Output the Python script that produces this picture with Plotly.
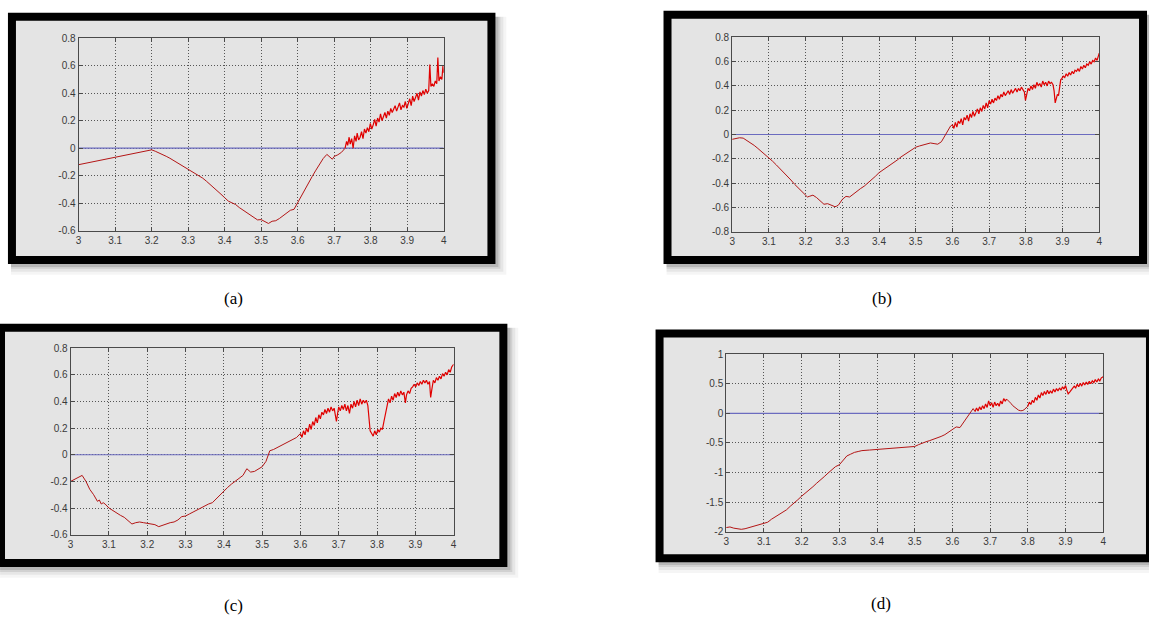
import plotly.graph_objects as go

W, H = 1149, 624

# ---------------- data ----------------
# (a)
a_smooth_x = [3.0, 3.2, 3.21, 3.22, 3.23, 3.24, 3.25, 3.26, 3.27, 3.28, 3.29, 3.30, 3.31, 3.32, 3.33,
              3.34, 3.35, 3.36, 3.37, 3.38, 3.39, 3.40, 3.41, 3.42, 3.43, 3.44, 3.45, 3.46, 3.47,
              3.48, 3.49, 3.50, 3.51, 3.52, 3.53, 3.54, 3.55, 3.56, 3.57, 3.58, 3.59, 3.60, 3.61,
              3.62, 3.63, 3.64, 3.65, 3.66, 3.67, 3.68, 3.69, 3.695, 3.70, 3.71, 3.72, 3.725, 3.730]
a_smooth_y = [-0.12, -0.012, -0.022, -0.033, -0.046, -0.059, -0.073, -0.089, -0.106, -0.123, -0.140,
              -0.155, -0.170, -0.183, -0.198, -0.218, -0.240, -0.262, -0.285, -0.310, -0.335, -0.360,
              -0.385, -0.398, -0.410, -0.432, -0.450, -0.468, -0.488, -0.510, -0.522, -0.520, -0.532,
              -0.548, -0.532, -0.528, -0.512, -0.490, -0.470, -0.452, -0.445, -0.395, -0.345, -0.300,
              -0.255, -0.205, -0.160, -0.115, -0.075, -0.045, -0.068, -0.080, -0.060, -0.048, -0.030,
              -0.012, 0.00]
a_noisy_x = [3.730, 3.734, 3.737, 3.741, 3.744, 3.748, 3.752, 3.756, 3.760, 3.763, 3.767, 3.771,
             3.775, 3.779, 3.783, 3.787, 3.791, 3.795, 3.799, 3.803, 3.807, 3.811, 3.815, 3.819,
             3.823, 3.827, 3.831, 3.835, 3.839, 3.843, 3.847, 3.851, 3.855, 3.859, 3.863, 3.867,
             3.871, 3.875, 3.879, 3.883, 3.887, 3.891, 3.895, 3.899, 3.903, 3.907, 3.911, 3.915,
             3.919, 3.923, 3.927, 3.931, 3.935, 3.939, 3.943, 3.947, 3.951, 3.955, 3.959, 3.962,
             3.965, 3.969, 3.973, 3.977, 3.981, 3.984, 3.987, 3.991, 3.995, 3.998, 4.000]
a_noisy_y = [0.00, 0.05, 0.02, 0.08, 0.03, 0.07, 0.00, 0.09, 0.05, 0.11, 0.06, 0.08,
             0.12, 0.07, 0.14, 0.11, 0.15, 0.12, 0.18, 0.14, 0.17, 0.21, 0.16, 0.22,
             0.19, 0.25, 0.20, 0.23, 0.26, 0.22, 0.27, 0.24, 0.29, 0.26, 0.28, 0.31,
             0.27, 0.30, 0.33, 0.28, 0.31, 0.30, 0.34, 0.29, 0.33, 0.36, 0.31, 0.38,
             0.34, 0.37, 0.40, 0.35, 0.41, 0.38, 0.42, 0.39, 0.43, 0.40, 0.42, 0.61,
             0.45, 0.47, 0.45, 0.49, 0.47, 0.66, 0.49, 0.52, 0.50, 0.60, 0.55]

# (b)
b_smooth_x = [3.0, 3.01, 3.02, 3.03, 3.04, 3.05, 3.06, 3.07, 3.08, 3.09, 3.1, 3.11, 3.12, 3.13,
              3.14, 3.15, 3.16, 3.17, 3.18, 3.19, 3.2, 3.205, 3.21, 3.22, 3.23, 3.24, 3.25, 3.26,
              3.27, 3.28, 3.285, 3.29, 3.3, 3.31, 3.32, 3.33, 3.34, 3.35, 3.36, 3.37, 3.38, 3.39,
              3.4, 3.41, 3.42, 3.43, 3.44, 3.45, 3.46, 3.47, 3.48, 3.49, 3.5, 3.51, 3.52, 3.53,
              3.54, 3.55, 3.56, 3.57, 3.58, 3.59, 3.595, 3.600]
b_smooth_y = [-0.04, -0.035, -0.027, -0.03, -0.048, -0.07, -0.09, -0.115, -0.14, -0.165, -0.19,
              -0.22, -0.25, -0.28, -0.31, -0.34, -0.375, -0.41, -0.44, -0.47, -0.50, -0.515, -0.51,
              -0.50, -0.52, -0.55, -0.575, -0.57, -0.58, -0.595, -0.59, -0.58, -0.535, -0.51, -0.515,
              -0.49, -0.47, -0.445, -0.425, -0.40, -0.37, -0.345, -0.315, -0.295, -0.27, -0.25,
              -0.23, -0.21, -0.185, -0.165, -0.14, -0.12, -0.105, -0.095, -0.085, -0.08, -0.07,
              -0.075, -0.08, -0.06, -0.01, 0.05, 0.07, 0.08]
b_noisy_x = [3.600, 3.604, 3.608, 3.612, 3.616, 3.620, 3.624, 3.628, 3.632, 3.636, 3.640, 3.644,
             3.648, 3.652, 3.656, 3.660, 3.664, 3.668, 3.672, 3.676, 3.680, 3.684, 3.688, 3.692,
             3.696, 3.700, 3.704, 3.708, 3.712, 3.716, 3.720, 3.724, 3.728, 3.732, 3.736, 3.740,
             3.744, 3.748, 3.752, 3.756, 3.760, 3.764, 3.768, 3.772, 3.776, 3.780, 3.784, 3.788,
             3.792, 3.796, 3.799, 3.802, 3.806, 3.810, 3.814, 3.818, 3.822, 3.826, 3.830, 3.834,
             3.838, 3.842, 3.846, 3.850, 3.854, 3.858, 3.862, 3.866, 3.870, 3.874, 3.877, 3.880,
             3.883, 3.886, 3.889, 3.892, 3.895, 3.898, 3.902, 3.906, 3.910, 3.914, 3.918, 3.922,
             3.926, 3.930, 3.934, 3.938, 3.942, 3.946, 3.950, 3.954, 3.958, 3.962, 3.966, 3.970,
             3.974, 3.978, 3.982, 3.986, 3.990, 3.994, 3.998, 4.000]
b_noisy_y = [0.08, 0.05, 0.10, 0.06, 0.11, 0.09, 0.13, 0.08, 0.14, 0.12, 0.16, 0.11,
             0.17, 0.14, 0.19, 0.15, 0.18, 0.21, 0.17, 0.22, 0.19, 0.24, 0.21, 0.26,
             0.22, 0.28, 0.25, 0.29, 0.26, 0.30, 0.28, 0.32, 0.29, 0.33, 0.31, 0.35,
             0.32, 0.34, 0.36, 0.33, 0.37, 0.34, 0.36, 0.38, 0.35, 0.38, 0.36, 0.39,
             0.37, 0.35, 0.28, 0.33, 0.38, 0.36, 0.40, 0.37, 0.41, 0.38, 0.43, 0.40,
             0.42, 0.39, 0.44, 0.41, 0.43, 0.40, 0.44, 0.42, 0.43, 0.41, 0.36, 0.26,
             0.30, 0.33, 0.32, 0.37, 0.45, 0.46, 0.48, 0.47, 0.50, 0.48, 0.51, 0.49,
             0.52, 0.50, 0.53, 0.52, 0.54, 0.52, 0.56, 0.54, 0.57, 0.55, 0.58, 0.57,
             0.60, 0.58, 0.61, 0.60, 0.63, 0.61, 0.66, 0.67]

# (c)
c_smooth_x = [3.0, 3.015, 3.03, 3.04, 3.05, 3.06, 3.065, 3.07, 3.075, 3.08, 3.085, 3.09, 3.1, 3.11,
              3.12, 3.13, 3.14, 3.15, 3.16, 3.17, 3.18, 3.19, 3.2, 3.21, 3.22, 3.23, 3.24, 3.25,
              3.26, 3.27, 3.28, 3.29, 3.3, 3.31, 3.32, 3.33, 3.34, 3.35, 3.36, 3.37, 3.38, 3.39,
              3.4, 3.41, 3.42, 3.43, 3.44, 3.45, 3.46, 3.47, 3.48, 3.49, 3.5, 3.51, 3.52, 3.53,
              3.54, 3.55, 3.56, 3.57, 3.58, 3.59, 3.600]
c_smooth_y = [-0.20, -0.18, -0.155, -0.20, -0.26, -0.30, -0.33, -0.35, -0.34, -0.37, -0.36, -0.37,
              -0.40, -0.42, -0.44, -0.455, -0.47, -0.495, -0.52, -0.51, -0.505, -0.51, -0.515,
              -0.52, -0.525, -0.54, -0.53, -0.515, -0.51, -0.505, -0.49, -0.465, -0.46, -0.445,
              -0.43, -0.41, -0.395, -0.38, -0.37, -0.36, -0.33, -0.30, -0.27, -0.245, -0.22,
              -0.20, -0.175, -0.155, -0.105, -0.13, -0.125, -0.11, -0.09, -0.05, 0.03, 0.04,
              0.055, 0.07, 0.085, 0.10, 0.11, 0.13, 0.16]
c_noisy_x = [3.600, 3.604, 3.608, 3.612, 3.616, 3.620, 3.624, 3.628, 3.632, 3.636, 3.640, 3.644,
             3.648, 3.652, 3.656, 3.660, 3.664, 3.668, 3.672, 3.676, 3.680, 3.684, 3.688, 3.691,
             3.694, 3.697, 3.700, 3.704, 3.708, 3.712, 3.716, 3.720, 3.724, 3.728, 3.732, 3.736,
             3.740, 3.744, 3.748, 3.752, 3.756, 3.760, 3.764, 3.768, 3.772, 3.776, 3.779, 3.782,
             3.786, 3.790, 3.794, 3.798, 3.802, 3.806, 3.810, 3.814, 3.818, 3.822, 3.826, 3.830,
             3.834, 3.838, 3.842, 3.846, 3.850, 3.854, 3.858, 3.862, 3.866, 3.870, 3.874, 3.877,
             3.881, 3.885, 3.889, 3.893, 3.897, 3.901, 3.905, 3.909, 3.913, 3.917, 3.921, 3.925,
             3.929, 3.933, 3.937, 3.940, 3.943, 3.947, 3.951, 3.955, 3.959, 3.963, 3.967, 3.971,
             3.975, 3.979, 3.983, 3.987, 3.991, 3.995, 4.000]
c_noisy_y = [0.16, 0.13, 0.18, 0.15, 0.20, 0.17, 0.23, 0.19, 0.25, 0.22, 0.28, 0.24,
             0.30, 0.27, 0.32, 0.30, 0.34, 0.31, 0.35, 0.32, 0.36, 0.33, 0.35, 0.28,
             0.25, 0.31, 0.36, 0.33, 0.37, 0.34, 0.38, 0.33, 0.37, 0.31, 0.38, 0.35,
             0.40, 0.36, 0.41, 0.37, 0.42, 0.38, 0.41, 0.39, 0.41, 0.37, 0.25, 0.18,
             0.16, 0.14, 0.18, 0.15, 0.19, 0.17, 0.20, 0.19, 0.25, 0.31, 0.37, 0.42,
             0.39, 0.44, 0.41, 0.46, 0.43, 0.47, 0.44, 0.48, 0.45, 0.47, 0.39, 0.45,
             0.48, 0.46, 0.50, 0.51, 0.53, 0.51, 0.54, 0.52, 0.55, 0.53, 0.56, 0.54,
             0.56, 0.53, 0.55, 0.43, 0.49, 0.56, 0.54, 0.58, 0.56, 0.59, 0.57, 0.61,
             0.59, 0.62, 0.60, 0.64, 0.62, 0.66, 0.68]

# (d)
d_smooth_x = [3.0, 3.01, 3.02, 3.03, 3.04, 3.05, 3.06, 3.07, 3.08, 3.09, 3.1, 3.11, 3.12, 3.13,
              3.14, 3.15, 3.16, 3.17, 3.18, 3.19, 3.2, 3.21, 3.22, 3.23, 3.24, 3.25, 3.26, 3.27,
              3.28, 3.29, 3.3, 3.31, 3.32, 3.33, 3.34, 3.35, 3.36, 3.38, 3.4, 3.42, 3.45, 3.48,
              3.5, 3.51, 3.52, 3.53, 3.54, 3.55, 3.56, 3.57, 3.58, 3.59, 3.6, 3.61, 3.62, 3.63,
              3.64, 3.65, 3.655, 3.660]
d_smooth_y = [-1.93, -1.92, -1.94, -1.95, -1.96, -1.95, -1.93, -1.92, -1.90, -1.88, -1.85, -1.84,
              -1.79, -1.75, -1.72, -1.68, -1.63, -1.57, -1.52, -1.46, -1.40, -1.35, -1.29, -1.24,
              -1.18, -1.13, -1.07, -1.01, -0.96, -0.90, -0.87, -0.80, -0.72, -0.69, -0.66, -0.645,
              -0.63, -0.62, -0.61, -0.605, -0.59, -0.58, -0.56, -0.53, -0.50, -0.48, -0.46, -0.44,
              -0.41, -0.39, -0.36, -0.32, -0.28, -0.23, -0.24, -0.15, -0.06, 0.05, 0.08, 0.03]
d_noisy1_x = [3.660, 3.664, 3.668, 3.672, 3.676, 3.680, 3.684, 3.688, 3.692, 3.696, 3.700, 3.704,
              3.708, 3.712, 3.716, 3.720, 3.724, 3.728, 3.732, 3.736, 3.740, 3.744]
d_noisy1_y = [0.03, 0.09, 0.04, 0.11, 0.06, 0.13, 0.08, 0.16, 0.10, 0.21, 0.13, 0.18,
              0.10, 0.19, 0.13, 0.17, 0.12, 0.21, 0.16, 0.25, 0.21, 0.24]
d_bump_x = [3.744, 3.750, 3.755, 3.760, 3.765, 3.770, 3.775, 3.780, 3.785, 3.790, 3.795, 3.800]
d_bump_y = [0.24, 0.21, 0.17, 0.13, 0.10, 0.075, 0.055, 0.045, 0.045, 0.06, 0.09, 0.12]
d_noisy2_x = [3.800, 3.804, 3.808, 3.812, 3.816, 3.820, 3.824, 3.828, 3.832, 3.836, 3.840, 3.844,
              3.848, 3.852, 3.856, 3.860, 3.864, 3.868, 3.872, 3.876, 3.880, 3.884, 3.888, 3.892,
              3.896, 3.900, 3.903, 3.907, 3.911, 3.915, 3.919, 3.923, 3.927, 3.931, 3.935, 3.939,
              3.943, 3.947, 3.951, 3.955, 3.959, 3.963, 3.967, 3.971, 3.975, 3.979, 3.983, 3.987,
              3.991, 3.995, 4.000]
d_noisy2_y = [0.12, 0.19, 0.15, 0.22, 0.18, 0.27, 0.22, 0.31, 0.26, 0.35, 0.30, 0.37,
              0.32, 0.39, 0.33, 0.38, 0.34, 0.41, 0.36, 0.42, 0.38, 0.43, 0.39, 0.45,
              0.41, 0.47, 0.40, 0.33, 0.36, 0.39, 0.42, 0.46, 0.43, 0.49, 0.45, 0.51,
              0.46, 0.52, 0.48, 0.53, 0.49, 0.54, 0.50, 0.55, 0.52, 0.57, 0.53, 0.58,
              0.55, 0.60, 0.62]

zero_x = [3.0, 4.0]
zero_y = [0.0, 0.0]

x_ticks = [3.0, 3.1, 3.2, 3.3, 3.4, 3.5, 3.6, 3.7, 3.8, 3.9, 4.0]
x_tick_labels = ["3", "3.1", "3.2", "3.3", "3.4", "3.5", "3.6", "3.7", "3.8", "3.9", "4"]
y_ticks_a = [-0.6, -0.4, -0.2, 0.0, 0.2, 0.4, 0.6, 0.8]
y_labels_a = ["-0.6", "-0.4", "-0.2", "0", "0.2", "0.4", "0.6", "0.8"]
y_ticks_b = [-0.8, -0.6, -0.4, -0.2, 0.0, 0.2, 0.4, 0.6, 0.8]
y_labels_b = ["-0.8", "-0.6", "-0.4", "-0.2", "0", "0.2", "0.4", "0.6", "0.8"]
y_ticks_d = [-2.0, -1.5, -1.0, -0.5, 0.0, 0.5, 1.0]
y_labels_d = ["-2", "-1.5", "-1", "-0.5", "0", "0.5", "1"]
panel_labels = ["(a)", "(b)", "(c)", "(d)"]

# ---------------- layout helpers ----------------
def px_x(v):
    return v / W

def px_y(v):
    return 1 - v / H

SMOOTH = dict(color="#b31515", width=1.0)
NOISY = dict(color="#e00000", width=1.2)

panels = [
    dict(plot=(76, 443, 33, 229), frame=(5, 495, 7, 263), label=(232, 298),
         yr=(-0.6, 0.8), yt=y_ticks_a, yl=y_labels_a,
         segs=[(a_smooth_x, a_smooth_y, SMOOTH), (a_noisy_x, a_noisy_y, NOISY)]),
    dict(plot=(733, 1102, 32, 230), frame=(664, 1150, 5, 263), label=(884, 298),
         yr=(-0.8, 0.8), yt=y_ticks_b, yl=y_labels_b,
         segs=[(b_smooth_x, b_smooth_y, SMOOTH), (b_noisy_x, b_noisy_y, NOISY)]),
    dict(plot=(68, 453, 349, 539), frame=(-6, 507, 324, 572), label=(232, 611),
         yr=(-0.6, 0.8), yt=y_ticks_a, yl=y_labels_a,
         segs=[(c_smooth_x, c_smooth_y, SMOOTH), (c_noisy_x, c_noisy_y, NOISY)]),
    dict(plot=(727, 1106, 355, 536), frame=(656, 1157, 330, 567), label=(883, 609),
         yr=(-2.0, 1.0), yt=y_ticks_d, yl=y_labels_d,
         segs=[(d_smooth_x, d_smooth_y, SMOOTH), (d_noisy1_x, d_noisy1_y, NOISY),
               (d_bump_x, d_bump_y, SMOOTH), (d_noisy2_x, d_noisy2_y, NOISY)]),
]

fig = go.Figure()
shapes = []
annotations = []
layout = {}
T = 8  # frame thickness

for i, p in enumerate(panels):
    n = "" if i == 0 else str(i + 1)
    px0, px1, py0, py1 = p["plot"]
    fx0, fx1, fy0, fy1 = p["frame"]
    # soft drop shadow
    for k, a in zip([11, 8, 5, 3], [0.04, 0.06, 0.09, 0.12]):
        shapes.append(dict(type="rect", xref="paper", yref="paper", layer="below",
                           x0=px_x(fx0 + 3), x1=px_x(fx1 + k), y0=px_y(fy1 + k), y1=px_y(fy0 + 4),
                           line=dict(width=0), fillcolor=f"rgba(0,0,0,{a})"))
    # black frame with grey panel
    shapes.append(dict(type="rect", xref="paper", yref="paper", layer="below",
                       x0=px_x(fx0 + T / 2), x1=px_x(fx1 - T / 2),
                       y0=px_y(fy1 - T / 2), y1=px_y(fy0 + T / 2),
                       line=dict(color="black", width=T), fillcolor="#e4e4e4"))
    fig.add_trace(go.Scatter(x=zero_x, y=zero_y, mode="lines", xaxis="x" + n, yaxis="y" + n,
                             line=dict(color="#6b6bbf", width=1.2), showlegend=False,
                             hoverinfo="skip"))
    for sx, sy, st in p["segs"]:
        fig.add_trace(go.Scatter(x=sx, y=sy, mode="lines", xaxis="x" + n, yaxis="y" + n,
                                 line=st, showlegend=False))
    common = dict(showline=True, linecolor="#4a4a4a", linewidth=1, mirror="ticks",
                  ticks="inside", ticklen=4, tickcolor="#4a4a4a",
                  showgrid=True, gridcolor="#555555", gridwidth=1, griddash="1px,2px",
                  zeroline=False, tickfont=dict(family="Liberation Sans", size=10, color="#3a3a3a"),
                  fixedrange=True)
    layout["xaxis" + n] = dict(common, domain=[px_x(px0), px_x(px1)], range=[3, 4],
                               tickvals=x_ticks, ticktext=x_tick_labels, anchor="y" + n)
    layout["yaxis" + n] = dict(common, domain=[px_y(py1), px_y(py0)], range=list(p["yr"]),
                               tickvals=p["yt"], ticktext=p["yl"], anchor="x" + n)
    annotations.append(dict(text=panel_labels[i], x=px_x(p["label"][0]), y=px_y(p["label"][1]),
                            xref="paper", yref="paper", showarrow=False,
                            xanchor="center", yanchor="middle",
                            font=dict(family="Liberation Serif", size=17, color="black")))

fig.update_layout(
    width=W, height=H,
    margin=dict(l=0, r=0, t=0, b=0),
    paper_bgcolor="white",
    plot_bgcolor="rgba(0,0,0,0)",
    shapes=shapes,
    annotations=annotations,
    **layout,
)

fig.write_html("out.html")
